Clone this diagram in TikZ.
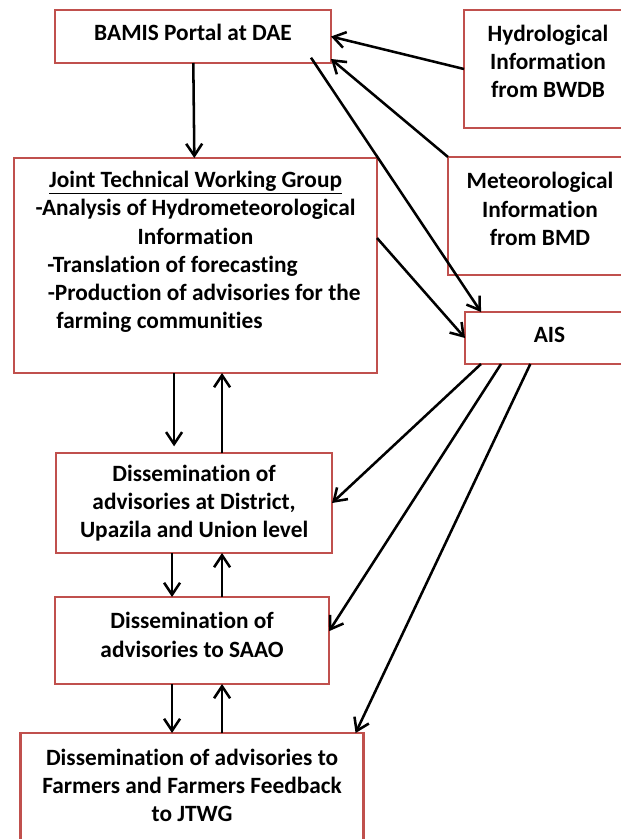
\documentclass[tikz,border=0pt]{standalone}
\usepackage{fontspec}
\setmainfont{Carlito}[Ligatures=NoCommon]
\usetikzlibrary{shapes,arrows.meta,positioning,calc}
\usepackage{xcolor}
\definecolor{boxred}{RGB}{192,80,77}

\begin{document}
\begin{tikzpicture}[
    x=0.75pt, y=-0.75pt,
    box/.style={rectangle, draw=boxred, line width=1.8pt, outer sep=0pt, fill=white, align=center, inner sep=2pt, font=\fontsize{17.5}{21.2}\selectfont\bfseries},
    arrow/.style={-{Straight Barb[length=9pt,width=12pt]}, line width=1.9pt}
]
\clip (0,0) rectangle (621,839);
\fill[white] (0,0) rectangle (621,839);

% Left column
\node[box, minimum width=207pt, minimum height=39.75pt] (bamis) at (193,36.5) {BAMIS Portal at DAE\\[-15.2pt]\mbox{}};
\node[box, below=71.25pt of bamis, xshift=1.9pt, minimum width=272.25pt, minimum height=161.25pt] (jtwg) {\underline{Joint Technical Working Group}\\-Analysis of Hydrometeorological\\Information\\-Translation of forecasting\rule{34.5pt}{0pt}\\\rule{13pt}{0pt}-Production of advisories for the\\farming communities\rule{54pt}{0pt}\\[2pt]\mbox{}};
\node[box, below=60pt of jtwg, xshift=-1.1pt, minimum width=207pt, minimum height=75pt] (dist) {Dissemination of\\advisories at District,\\Upazila and Union level};
\node[box, below=33pt of dist, xshift=-1.5pt, minimum width=205.5pt, minimum height=65.25pt] (saao) {Dissemination of\\advisories to SAAO\\[-12.75pt]\mbox{}};
\node[box, below=36.75pt of saao, minimum width=257.25pt, minimum height=84pt] (farm) {Dissemination of advisories to\\Farmers and Farmers Feedback\\to JTWG\\[-16pt]\mbox{}};

% Right column
\node[box, minimum width=126pt, minimum height=88.5pt] (hydro) at (548,69) {Hydrological\\Information\\from BWDB\\[-9.75pt]\mbox{}};
\node[box, minimum width=138pt, minimum height=88.5pt] (meteo) at (540,216) {Meteorological\\Information\\from BMD\\[-10.5pt]\mbox{}};
\node[box, minimum width=126.75pt, minimum height=39pt] (ais) at (549.5,338) {AIS\\[-16.7pt]\mbox{}};

% Arrows
\draw[arrow] (bamis) -- (jtwg);
\draw[arrow] (hydro.west) -- (bamis.east);
\draw[arrow] (meteo.north west) -- ([yshift=3pt]bamis.south east);
\draw[arrow] ([xshift=-15pt,yshift=4pt]bamis.south east) -- ([xshift=12pt]ais.north west);
\draw[arrow] ([yshift=20.6pt]jtwg.east) -- (ais.west);

\draw[arrow] ([xshift=12pt]ais.south west) -- (dist.east);
\draw[arrow] ([xshift=27pt]ais.south west) -- ([yshift=7pt]saao.east);
\draw[arrow] ([xshift=49pt]ais.south west) -- ([xshift=-6pt]farm.north east);

\draw[arrow] ([xshift=-15pt]dist.north |- jtwg.south) -- ([xshift=-15pt,yshift=5pt]dist.north);
\draw[arrow] ([xshift=21pt]dist.north) -- ([xshift=21pt]dist.north |- jtwg.south);
\draw[arrow] ([xshift=-15pt]saao.north |- dist.south) -- ([xshift=-15pt]saao.north);
\draw[arrow] ([xshift=22.5pt]saao.north) -- ([xshift=22.5pt]saao.north |- dist.south);
\draw[arrow] ([xshift=-15pt]farm.north |- saao.south) -- ([xshift=-15pt]farm.north);
\draw[arrow] ([xshift=22.5pt]farm.north) -- ([xshift=22.5pt]farm.north |- saao.south);

\end{tikzpicture}
\end{document}
